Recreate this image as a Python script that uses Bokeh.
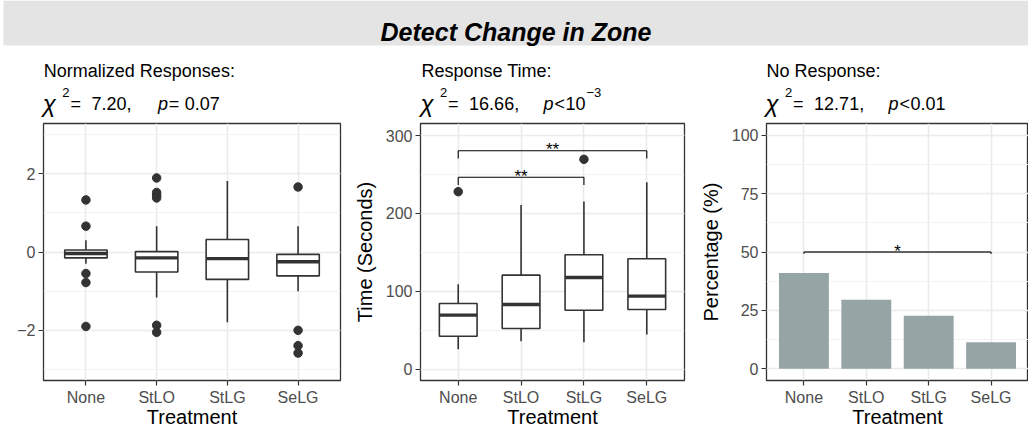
from bokeh.plotting import figure
from bokeh.layouts import column, row
from bokeh.models import Range1d, SingleIntervalTicker, FixedTicker, BoxAnnotation
from bokeh.core.properties import value
from bokeh.embed import file_html
from bokeh.resources import INLINE

FONT = "Liberation Sans"

# ---------------- data ----------------
treatments = ["None", "StLO", "StLG", "SeLG"]

# Panel 1: normalized responses (box-plot statistics)
norm_q1 = [-0.15, -0.51, -0.70, -0.61]
norm_med = [-0.04, -0.15, -0.17, -0.25]
norm_q3 = [0.05, 0.01, 0.32, -0.06]
norm_lo = [-0.30, -1.16, -1.79, -1.00]
norm_hi = [0.30, 0.66, 1.81, 0.66]
norm_out_none = [1.33, 0.66, -0.55, -0.78, -1.90]
norm_out_stlo = [1.89, 1.52, 1.45, 1.38, -1.87, -2.05]
norm_out_stlg = []
norm_out_selg = [1.66, -2.00, -2.39, -2.58]

# Panel 2: response time (seconds)
time_q1 = [42.4, 52.2, 75.8, 76.7]
time_med = [69.4, 83.0, 117.8, 93.8]
time_q3 = [84.4, 120.8, 147.0, 141.8]
time_lo = [25.7, 36.0, 34.7, 44.6]
time_hi = [109.0, 210.8, 215.5, 240.0]
time_out_none = [228.0]
time_out_stlo = []
time_out_stlg = [269.5]
time_out_selg = []
time_sig_from = ["None", "None"]
time_sig_to = ["StLG", "SeLG"]
time_sig_y = [246.4, 280.6]
time_sig_label = ["**", "**"]

# Panel 3: no response (%)
noresp_pct = [41.0, 29.6, 22.7, 11.4]
noresp_sig_from = ["None"]
noresp_sig_to = ["SeLG"]
noresp_sig_y = [50.0]
noresp_sig_label = ["*"]

title_text = "Detect Change in Zone"
panel_titles = ["Normalized Responses:", "Response Time:", "No Response:"]
chi_values = ["7.20,", "16.66,", "12.71,"]

# ---------------- helpers ----------------
xs = list(range(len(treatments)))
idx = {t: i for i, t in enumerate(treatments)}


def base_panel(width, left, right, y0, y1, interval, ylabel):
    p = figure(width=width, height=315, x_range=Range1d(-0.6, 3.6),
               y_range=Range1d(y0, y1), toolbar_location=None,
               output_backend="svg", min_border_left=left,
               min_border_right=right, min_border_top=3,
               min_border_bottom=55)
    p.xaxis.ticker = FixedTicker(ticks=xs)
    p.xaxis.major_label_overrides = {i: t for i, t in enumerate(treatments)}
    p.yaxis.ticker = SingleIntervalTicker(interval=interval, num_minor_ticks=2)
    p.xaxis.axis_label = "Treatment"
    if ylabel:
        p.yaxis.axis_label = ylabel
    for ax in p.axis:
        ax.axis_line_color = None
        ax.major_tick_out = 5
        ax.major_tick_in = 0
        ax.minor_tick_out = 0
        ax.minor_tick_in = 0
        ax.major_tick_line_color = "#333333"
        ax.major_tick_line_width = 1.2
        ax.major_label_text_font = FONT
        ax.major_label_text_font_size = "16px"
        ax.major_label_text_color = "#4D4D4D"
        ax.major_label_standoff = 3
        ax.axis_label_text_font = FONT
        ax.axis_label_text_font_size = "20px"
        ax.axis_label_text_font_style = "normal"
        ax.axis_label_text_color = "#000000"
    p.xaxis.axis_label_standoff = -3
    p.yaxis.axis_label_standoff = 7
    p.xgrid.grid_line_color = "#EBEBEB"
    p.xgrid.grid_line_width = 1.6
    p.ygrid.grid_line_color = "#EBEBEB"
    p.ygrid.grid_line_width = 1.6
    p.ygrid.minor_grid_line_color = "#F0F0F0"
    p.ygrid.minor_grid_line_width = 0.9
    p.outline_line_color = "#333333"
    p.outline_line_width = 1.3
    p.background_fill_color = "white"
    p.border_fill_color = "white"
    return p


def draw_box(p, q1, med, q3, lo, hi, outs):
    p.segment(x0=xs, y0=q3, x1=xs, y1=hi, line_color="#333333", line_width=1.6)
    p.segment(x0=xs, y0=q1, x1=xs, y1=lo, line_color="#333333", line_width=1.6)
    p.vbar(x=xs, bottom=q1, top=q3, width=0.6, fill_color="white",
           line_color="#333333", line_width=1.6)
    p.segment(x0=[x - 0.3 for x in xs], y0=med, x1=[x + 0.3 for x in xs],
              y1=med, line_color="#333333", line_width=3.4)
    ox, oy = [], []
    for t, vals in zip(treatments, outs):
        for v in vals:
            ox.append(idx[t])
            oy.append(v)
    p.scatter(x=ox, y=oy, size=8.5, fill_color="#333333", line_color="#333333")


def draw_sig(p, frm, to, ys, labels, tip, color, width):
    x0 = [idx[a] for a in frm]
    x1 = [idx[b] for b in to]
    p.segment(x0=x0, y0=ys, x1=x1, y1=ys, line_color=color, line_width=width)
    p.segment(x0=x0, y0=ys, x1=x0, y1=[y - tip for y in ys],
              line_color=color, line_width=width)
    p.segment(x0=x1, y0=ys, x1=x1, y1=[y - tip for y in ys],
              line_color=color, line_width=width)
    p.text(x=[(a + b) / 2 for a, b in zip(x0, x1)], y=ys, text=labels,
           text_font=value(FONT), text_font_size="17px", text_align="center",
           text_baseline="alphabetic", y_offset=-1, text_color="#000000")


# ---------------- header (pixel-like coordinates, y measured from bottom) ----
H = 120
head = figure(width=1028, height=H, x_range=Range1d(0, 1028),
              y_range=Range1d(0, H), toolbar_location=None,
              output_backend="svg", min_border=0,
              x_axis_location=None, y_axis_location=None)
head.grid.visible = False
head.outline_line_color = None
head.background_fill_color = "white"
head.border_fill_color = "white"
head.add_layout(BoxAnnotation(left=3, right=1028, top=H, bottom=H - 45,
                              fill_color="#E4E4E4", fill_alpha=1.0,
                              line_color=None, level="underlay"))


def seg(x, y, t, size="18px", style="normal"):
    head.text(x=[x], y=[H - y], text=[t], text_font=value(FONT),
              text_font_size=size, text_font_style=style,
              text_baseline="alphabetic", text_color="#000000")


head.text(x=[515.5], y=[H - 31.5], text=[title_text], text_font=value(FONT),
          text_font_size="25px", text_font_style="bold italic",
          text_align="center", text_baseline="alphabetic", text_color="#000000")

lefts = [43.3, 421.0, 766.0]
for L, t in zip(lefts, panel_titles):
    seg(L, 70.5, t)

BL, SUP = 103.3, 92.0
for k, L in enumerate(lefts):
    seg(L - 1, BL, "χ", "24px", "italic")
    seg(L + 18.4, SUP, "2", "13px")
    seg(L + 26.6, BL, "=")
    seg(L + 47.6, BL, chi_values[k])
L = lefts[0]
seg(L + 114.3, BL, "p", style="italic")
seg(L + 125, BL, "=")
seg(L + 141, BL, "0.07")
L = lefts[1]
seg(L + 122, BL, "p", style="italic")
seg(L + 133, BL, "<")
seg(L + 144, BL, "10")
seg(L + 165, SUP, "\u22123", "13px")
L = lefts[2]
seg(L + 122, BL, "p", style="italic")
seg(L + 133, BL, "<")
seg(L + 144, BL, "0.01")

# ---------------- panels ----------------
p1 = base_panel(350, 43, 10, -3.28, 3.28, 2, None)
draw_box(p1, norm_q1, norm_med, norm_q3, norm_lo, norm_hi,
         [norm_out_none, norm_out_stlo, norm_out_stlg, norm_out_selg])

p2 = base_panel(345, 70, 11, -14.5, 315.5, 100, "Time (Seconds)")
draw_box(p2, time_q1, time_med, time_q3, time_lo, time_hi,
         [time_out_none, time_out_stlo, time_out_stlg, time_out_selg])
draw_sig(p2, time_sig_from, time_sig_to, time_sig_y, time_sig_label,
         0.03 * 330, "#000000", 1.1)

p3 = base_panel(333, 71, 0, -5, 105, 25, "Percentage (%)")
p3.vbar(x=xs, top=noresp_pct, bottom=0, width=0.8, fill_color="#95A5A6",
        line_color=None)
draw_sig(p3, noresp_sig_from, noresp_sig_to, noresp_sig_y, noresp_sig_label,
         0.7, "#333333", 1.5)

layout = column(head, row(p1, p2, p3, spacing=0), spacing=0)

open("out.html", "w").write(file_html(layout, INLINE))
